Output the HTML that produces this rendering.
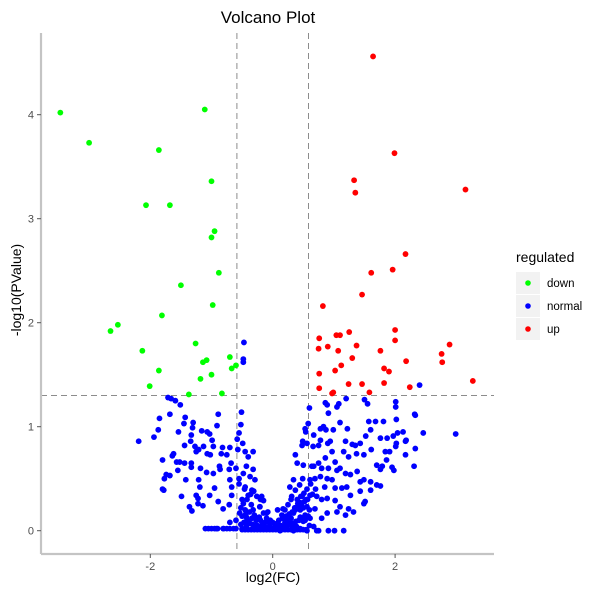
<!DOCTYPE html>
<html><head><meta charset="utf-8"><style>
body{margin:0;background:#fff;}
svg{display:block;font-family:"Liberation Sans",sans-serif;}
</style></head><body>
<svg id="chart" width="600" height="601">
<text x="268" y="23" font-size="17" text-anchor="middle" fill="#000">Volcano Plot</text>
<g id="marks"></g>
<g id="axes"></g>
<text x="273" y="582" font-size="14" text-anchor="middle" fill="#000">log2(FC)</text>
<text transform="translate(21,290) rotate(-90)" font-size="14" text-anchor="middle" fill="#000">-log10(PValue)</text>
<g>
<text x="516" y="262" font-size="14" fill="#000">regulated</text>
<g><rect x="516" y="272" width="24" height="22" fill="#f2f2f2"/><circle cx="528" cy="283" r="2.8" fill="#00ff00"/><text x="547" y="287" font-size="11.5" fill="#000">down</text></g>
<g><rect x="516" y="295" width="24" height="22" fill="#f2f2f2"/><circle cx="528" cy="306" r="2.8" fill="#0000ff"/><text x="547" y="310" font-size="11.5" fill="#000">normal</text></g>
<g><rect x="516" y="318" width="24" height="22" fill="#f2f2f2"/><circle cx="528" cy="329" r="2.8" fill="#ff0000"/><text x="547" y="333" font-size="11.5" fill="#000">up</text></g>
</g>
</svg>
<script>
const xTicks=[-2,0,2];
const yTicks=[0,1,2,3,4];
const fcThreshold=0.585;
const pThreshold=1.3;
const downX=[-3.47,-3.0,-1.11,-1.86,-1.0,-2.07,-1.68,-0.95,-1.0,-0.88,-1.5,-0.98,-1.81,-2.53,-2.65,-1.26,-2.13,-1.14,-1.08,-0.7,-0.6,-0.67,-1.86,-1.18,-1.0,-2.01,-1.37,-0.83];
const downY=[4.02,3.73,4.05,3.66,3.36,3.13,3.13,2.88,2.82,2.48,2.36,2.17,2.07,1.98,1.92,1.80,1.73,1.62,1.64,1.67,1.59,1.56,1.54,1.46,1.5,1.39,1.31,1.32];
const upX=[1.64,1.99,1.33,1.35,3.15,2.17,1.61,1.96,1.46,0.82,2.0,1.04,1.1,1.25,0.76,2.0,2.89,1.37,0.9,1.07,0.75,1.76,2.76,2.18,2.77,1.3,1.12,1.82,1.9,0.76,1.02,3.27,1.24,1.46,1.82,2.24,0.76,0.97,0.99,1.58];
const upY=[4.56,3.63,3.37,3.25,3.28,2.66,2.48,2.51,2.27,2.16,1.93,1.88,1.88,1.91,1.85,1.83,1.79,1.78,1.77,1.73,1.75,1.73,1.70,1.63,1.62,1.66,1.59,1.56,1.53,1.51,1.54,1.44,1.41,1.41,1.42,1.38,1.37,1.32,1.33,1.33];
const normalX=[-2.19,-1.94,-1.87,-1.85,-1.68,-1.71,-1.66,-1.59,-1.51,-1.43,-1.45,-1.30,-1.31,-1.16,-1.07,-1.03,-0.89,-0.91,-1.54,-1.33,-1.34,-1.44,-1.27,-1.13,-0.97,-0.99,-0.82,-0.70,-1.62,-1.64,-1.80,-1.57,-1.52,-1.44,-1.33,-1.25,-1.21,-1.07,-1.02,-0.84,-0.75,-0.68,-0.87,-0.71,-1.18,-1.33,-1.55,-1.74,-1.68,-1.77,-1.42,-1.21,-1.08,-0.97,-0.86,-0.70,-0.67,-1.19,-1.25,-1.22,-1.49,-1.80,-1.78,-1.36,-1.32,-1.22,-1.14,-1.03,-0.95,-0.89,-0.81,-0.71,-0.67,-1.05,-0.92,-0.81,-0.70,-0.64,
-0.51,-0.52,-0.55,-0.58,-0.49,-0.57,-0.45,-0.40,-0.32,-0.43,-0.32,-0.48,-0.37,-0.29,-0.45,-0.34,-0.40,-0.26,-0.15,-0.21,-0.32,-0.10,-0.54,-0.43,-0.26,-0.04,0.07,0.17,0.34,-0.43,-0.21,0.01,0.23,0.45,
0.60,0.58,0.53,0.54,0.67,0.78,0.83,0.87,0.99,0.91,0.86,0.89,1.05,1.08,1.20,1.10,1.22,1.50,1.55,1.57,1.68,1.81,2.01,2.01,2.02,1.60,1.52,1.43,1.30,1.19,1.76,1.87,1.97,2.04,2.13,2.18,2.17,2.32,2.33,2.46,2.99,2.33,2.31,2.17,2.02,2.01,1.91,1.84,1.86,1.79,1.70,1.76,1.95,1.98,1.61,1.49,1.37,1.35,1.24,1.16,1.02,0.97,0.94,0.90,0.78,0.75,0.66,0.56,0.49,0.48,0.37,0.40,0.50,0.64,0.67,0.75,0.80,0.86,0.91,1.05,1.10,1.19,1.27,1.38,1.43,1.49,1.60,1.70,1.76,1.60,1.43,1.27,1.21,1.13,1.02,0.97,0.89,0.78,0.69,0.61,0.49,0.34,0.28,0.37,0.44,0.31,0.48,0.61,0.72,0.89,1.02,1.10,1.24,1.49,1.51,1.32,1.19,1.05,0.89,0.80,0.69,0.56,0.53,0.45,0.34,0.17,0.23,0.28,0.39,0.50,0.61,0.67,0.75,0.91,1.01,1.16,0.12,-0.04,-0.10,-0.15,-0.21,-0.18,0.01,0.12,0.34,0.56,0.72,
-0.05,0.05,-0.1,0.1,0.15,-0.2,-0.25,0.2,0.25,-0.3,-0.35,0.3,-0.1,0.05,-0.15,0.2,-0.5,-0.55,0.4,0.45,-0.45,-0.6,0.0,-0.08,0.08,-0.2,0.3,-0.4,-0.3,-0.9,-1.1,-0.5,-0.7,0.6,0.55,0.65,0.7,0.6,-0.6,-0.55,
-0.47,-0.48,-0.48,2.40,
-0.5,-0.45,-0.4,-0.35,-0.3,-0.25,-0.2,-0.15,-0.1,-0.05,0.0,0.05,0.1,0.15,0.2,0.25,0.3,0.35,0.4,0.45,0.5,0.55,
-0.52,-0.47,-0.42,-0.37,-0.33,-0.28,-0.23,-0.18,-0.12,-0.07,0.03,0.08,0.13,0.18,0.23,0.28,0.33,0.38,0.43,0.48,0.53,0.58,
-0.5,-0.44,-0.38,-0.34,-0.27,-0.22,-0.17,0.16,0.22,0.27,0.32,0.37,0.42,0.47,0.52,0.57,
-0.48,-0.42,-0.36,-0.31,-0.52,-0.46,0.36,0.41,0.46,0.51,0.56,0.62,
-0.8,-0.75,-0.6,-0.95,-1.0,0.5,0.45,0.8,0.85];
const normalY=[0.86,0.90,0.97,1.08,1.12,1.28,1.27,1.25,1.21,1.09,1.03,1.04,0.99,0.96,0.95,0.93,1.12,1.01,0.95,0.92,0.86,0.82,0.81,0.81,0.81,0.87,0.80,0.80,0.74,0.72,0.68,0.66,0.66,0.65,0.65,0.76,0.78,0.74,0.73,0.74,0.73,0.65,0.62,0.59,0.60,0.61,0.58,0.54,0.53,0.50,0.49,0.49,0.56,0.55,0.59,0.49,0.42,0.42,0.34,0.31,0.33,0.40,0.39,0.23,0.19,0.26,0.24,0.34,0.41,0.28,0.21,0.25,0.34,0.02,0.02,0.02,0.02,0.02,
1.14,1.02,0.94,0.88,0.84,0.78,0.76,0.71,0.76,0.62,0.59,0.55,0.52,0.49,0.42,0.39,0.34,0.33,0.29,0.23,0.20,0.17,0.17,0.13,0.12,0.10,0.07,0.04,0.04,0.04,0.04,0.02,0.02,0.02,
1.18,1.03,0.98,0.95,0.92,0.98,1.00,0.97,0.97,1.13,1.23,1.21,1.19,1.22,1.27,1.04,0.98,1.26,1.22,1.05,1.05,1.05,1.24,1.19,1.07,0.97,0.91,0.84,0.83,0.86,0.89,0.89,0.91,0.94,0.95,0.87,0.86,1.12,1.11,0.94,0.93,0.79,0.62,0.73,0.84,0.81,0.76,0.76,0.68,0.62,0.63,0.59,0.61,0.58,0.78,0.73,0.74,0.82,0.71,0.76,0.66,0.76,0.86,0.84,0.87,0.82,0.81,0.84,0.86,0.82,0.73,0.65,0.63,0.62,0.62,0.65,0.60,0.70,0.60,0.58,0.60,0.55,0.54,0.57,0.47,0.49,0.47,0.44,0.43,0.39,0.38,0.34,0.42,0.41,0.41,0.49,0.50,0.52,0.50,0.49,0.50,0.49,0.42,0.39,0.44,0.33,0.33,0.34,0.33,0.31,0.29,0.23,0.21,0.26,0.28,0.18,0.15,0.18,0.17,0.12,0.21,0.23,0.15,0.13,0.17,0.21,0.10,0.07,0.04,0.09,0.12,0.04,0.0,0.0,0.0,0.0,0.04,0.04,0.09,0.17,0.23,0.33,0.02,0.0,0.0,0.0,0.0,
0.05,0.06,0.12,0.1,0.15,0.1,0.05,0.2,0.25,0.15,0.25,0.3,0.02,0.02,0.05,0.08,0.3,0.45,0.3,0.2,0.2,0.1,0.08,0.18,0.2,0.3,0.12,0.08,0.02,0.02,0.02,0.02,0.08,0.2,0.3,0.35,0.4,0.05,0.6,0.5,
1.81,1.65,1.62,1.40,
0.01,0.01,0.01,0.01,0.01,0.01,0.01,0.01,0.01,0.01,0.01,0.01,0.01,0.01,0.01,0.01,0.01,0.01,0.01,0.01,0.01,0.01,
0.06,0.08,0.1,0.07,0.06,0.05,0.04,0.03,0.04,0.03,0.03,0.04,0.05,0.03,0.06,0.06,0.07,0.09,0.1,0.12,0.1,0.14,
0.14,0.16,0.18,0.12,0.1,0.13,0.08,0.12,0.14,0.16,0.18,0.2,0.24,0.26,0.28,0.3,
0.26,0.3,0.35,0.38,0.22,0.4,0.22,0.26,0.33,0.36,0.4,0.45,
0.02,0.02,0.02,0.02,0.02,0.22,0.27,0.3,0.42];

const NS="http://www.w3.org/2000/svg";
const L=41,R=494,T=33,B=554;
function xs(v){return 272.7+v*61.2;}
function ys(v){return 530.7-v*104;}
const marks=document.getElementById('marks');
const axes=document.getElementById('axes');
function mk(tag,attrs,parent){const e=document.createElementNS(NS,tag);for(const k in attrs)e.setAttribute(k,attrs[k]);parent.appendChild(e);return e;}

let l1=mk('line',{x1:xs(-fcThreshold),x2:xs(-fcThreshold),y1:T,y2:B,stroke:'#8c8c8c','stroke-width':1,'stroke-dasharray':'6,4'},marks);


let l2=mk('line',{x1:xs(fcThreshold),x2:xs(fcThreshold),y1:T,y2:B,stroke:'#8c8c8c','stroke-width':1,'stroke-dasharray':'6,4'},marks);


let l3=mk('line',{x1:L,x2:R,y1:ys(pThreshold),y2:ys(pThreshold),stroke:'#8c8c8c','stroke-width':1,'stroke-dasharray':'6,4'},marks);



function drawSeries(xa,ya,color,name){
  for(let i=0;i<xa.length;i++){
    const c=mk('circle',{cx:xs(xa[i]),cy:ys(ya[i]),r:2.9,fill:color},marks);
    
    
  }
}
drawSeries(normalX,normalY,'#0000ff','point-normal');
drawSeries(downX,downY,'#00ff00','point-down');
drawSeries(upX,upY,'#ff0000','point-up');

let ax=mk('line',{x1:L,x2:R,y1:B,y2:B,stroke:'#c4c4c4','stroke-width':2.2},axes);


let ay=mk('line',{x1:L,x2:L,y1:T,y2:B,stroke:'#c4c4c4','stroke-width':2.2},axes);


xTicks.forEach(t=>{
  const tk=mk('line',{x1:xs(t),x2:xs(t),y1:B,y2:B+4,stroke:'#555','stroke-width':1},axes);
  
  
  const tx=mk('text',{x:xs(t),y:B+16,'font-size':11,'text-anchor':'middle',fill:'#4d4d4d'},axes);
  tx.textContent=t;
  
  
});
yTicks.forEach(t=>{
  const tk=mk('line',{x1:L-4,x2:L,y1:ys(t),y2:ys(t),stroke:'#555','stroke-width':1},axes);
  
  
  const tx=mk('text',{x:L-7,y:ys(t)+4,'font-size':11,'text-anchor':'end',fill:'#4d4d4d'},axes);
  tx.textContent=t;
  
  
});
</script>
</body></html>
